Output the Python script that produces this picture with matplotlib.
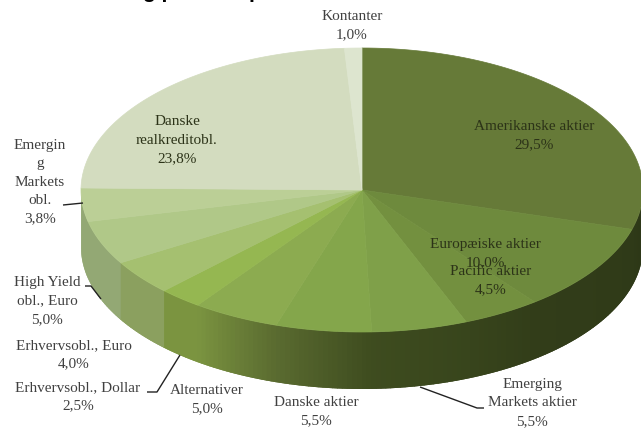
import matplotlib
matplotlib.use('Agg')
import matplotlib.pyplot as plt
import numpy as np
from matplotlib.colors import to_rgb

plt.rcParams['font.family'] = ['Liberation Serif', 'DejaVu Serif']

# andele i procent, med uret fra kl. 12
names = ['Amerikanske aktier', 'Europæiske aktier', 'Pacific aktier',
         'Emerging\nMarkets aktier', 'Danske aktier', 'Alternativer',
         'Erhvervsobl., Dollar', 'Erhvervsobl., Euro', 'High Yield\nobl., Euro',
         'Emergin\ng\nMarkets\nobl.', 'Danske\nrealkreditobl.', 'Kontanter']
values = [29.5, 10.0, 4.5, 5.5, 5.5, 5.0, 2.5, 4.0, 5.0, 3.8, 23.8, 1.0]
pct_labels = ['29,5%', '10,0%', '4,5%', '5,5%', '5,5%', '5,0%',
              '2,5%', '4,0%', '5,0%', '3,8%', '23,8%', '1,0%']
top_colors = ['#667a38', '#6e8a3d', '#73903f', '#7fa049', '#84a64b', '#8cab50',
              '#95b751', '#a5c070', '#b0c888', '#bbcf96', '#d3dcbf', '#dde5cf']
side_left = ['#2f3a18', '#323d19', '#38451c', '#3e4c1f', '#5a6b30', '#7b9440',
             '#7b9440', '#8ba05f', '#93a874', '#93a874', '#c4cfa8', '#c4cfa8']
side_right = ['#2b3516', '#2f3a18', '#323d19', '#38451c', '#3e4c1f', '#5a6b30',
              '#7b9440', '#8ba05f', '#93a874', '#93a874', '#c4cfa8', '#c4cfa8']
label_pos = [(534, 136), (485, 254), (491, 281), (532, 403), (316, 412), (207, 400),
             (78, 397), (74, 355), (47, 301), (40, 182), (177, 140), (352, 26)]
inside = [True, True, True, False, False, False, False, False, False, False, True, False]
leaders = [([420, 477, 484], [387, 408, 408]),
           ([180, 157, 147], [355, 392, 392]),
           ([101, 91, 85], [299, 286, 286]),
           ([83, 63], [203, 205])]

CX, CY, RX, RY, DEPTH = 362, 190, 281, 142, 57

fig = plt.figure(figsize=(6.41, 4.30), dpi=100)
ax = fig.add_axes([0, 0, 1, 1])
ax.set_xlim(0, 641)
ax.set_ylim(430, 0)
ax.axis('off')


def rim(t):
    return CX + RX * np.sin(t), CY - RY * np.cos(t)


edges = np.cumsum([0] + values) / sum(values) * 2 * np.pi

# sidevaeg: smalle strimler med toning, hver strimmel overlapper den naeste
for i in range(len(values)):
    a = max(edges[i], np.pi / 2)
    b = min(edges[i + 1], 3 * np.pi / 2)
    if b <= a:
        continue
    n = max(2, int((b - a) * 60))
    ts = np.linspace(a, b, n + 1)
    c0, c1 = np.array(to_rgb(side_right[i])), np.array(to_rgb(side_left[i]))
    for j in range(n):
        x, y = rim(np.linspace(ts[j], min(ts[j + 1] + 0.02, 3 * np.pi / 2), 4))
        col = c0 + (c1 - c0) * (j + 0.5) / n
        ax.fill(np.r_[x, x[::-1]], np.r_[y, y[::-1] + DEPTH], color=col, lw=0)

# toppen
for i in range(len(values)):
    x, y = rim(np.linspace(edges[i], edges[i + 1], 80))
    ax.fill(np.r_[CX, x], np.r_[CY, y], facecolor=top_colors[i], edgecolor=top_colors[i], lw=0.5)

for xs, ys in leaders:
    ax.plot(xs, ys, color='#222222', lw=1.0, solid_capstyle='butt')

for i in range(len(values)):
    col = '#2c3318' if inside[i] else '#404040'
    ax.text(label_pos[i][0], label_pos[i][1], names[i] + '\n' + pct_labels[i],
            ha='center', va='center', ma='center', fontsize=11, color=col, linespacing=1.53)

# titlen er skaaret af i toppen af billedet
ax.text(159, -2.5, 'g p', ha='center', va='baseline', fontsize=15, fontweight='bold',
        family=['Liberation Sans'], color='black')
ax.text(255, -2.5, 'p', ha='center', va='baseline', fontsize=15, fontweight='bold',
        family=['Liberation Sans'], color='black')

fig.savefig('out.png', dpi=100)
